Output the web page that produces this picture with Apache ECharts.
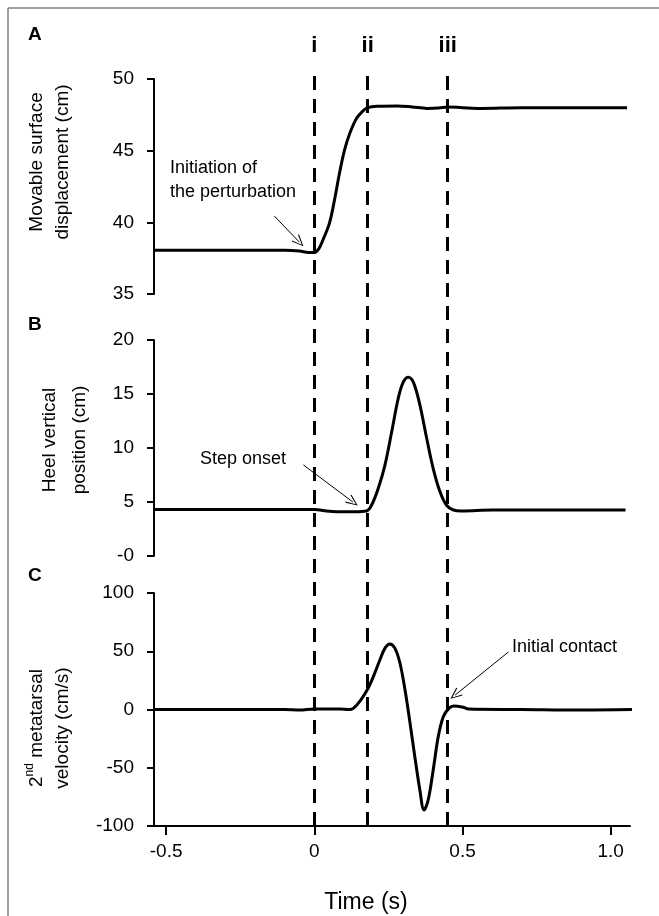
<!DOCTYPE html>
<html>
<head>
<meta charset="utf-8">
<script src="https://cdn.jsdelivr.net/npm/echarts@6/dist/echarts.min.js"></script>
<style>
  html, body { margin: 0; padding: 0; background: #fff; }
  #chart { width: 659px; height: 916px; }
</style>
</head>
<body>
<div id="chart"></div>
<script>
// panel A: movable surface displacement (cm)
const timeA = [-0.541, -0.3, -0.1, -0.05, -0.02, 0.0, 0.015, 0.029, 0.051, 0.068, 0.085, 0.102, 0.12, 0.143, 0.164, 0.178, 0.21, 0.28, 0.33, 0.38, 0.42, 0.45, 0.5, 0.56, 0.7, 0.8, 1.055];
const dispA = [38.05, 38.05, 38.05, 38.0, 37.9, 37.9, 38.15, 38.77, 39.95, 41.56, 43.44, 45.05, 46.23, 47.28, 47.77, 47.98, 48.1, 48.12, 48.05, 47.95, 47.98, 48.05, 48.0, 47.95, 48.0, 48.0, 48.0];

// panel B: heel vertical position (cm)
const timeB = [-0.541, 0.0, 0.05, 0.1, 0.137, 0.176, 0.193, 0.216, 0.238, 0.261, 0.283, 0.3, 0.317, 0.334, 0.356, 0.379, 0.401, 0.424, 0.446, 0.469, 0.497, 0.6, 0.8, 1.05];
const heelB = [4.3, 4.3, 4.15, 4.1, 4.1, 4.17, 4.7, 6.3, 8.4, 11.5, 14.6, 16.1, 16.55, 16.1, 14.0, 10.9, 8.1, 5.95, 4.7, 4.26, 4.17, 4.25, 4.25, 4.25];

// panel C: 2nd metatarsal velocity (cm/s)
const timeC = [-0.541, -0.1, -0.05, 0.0, 0.05, 0.086, 0.12, 0.148, 0.178, 0.199, 0.221, 0.238, 0.255, 0.272, 0.289, 0.306, 0.323, 0.339, 0.356, 0.37, 0.384, 0.401, 0.418, 0.435, 0.454, 0.47, 0.502, 0.52, 0.7, 0.9, 1.099];
const velC = [0, 0, -0.5, 0.5, 0.5, 0.4, 0, 5.3, 16.7, 28.2, 42.5, 52.5, 56.2, 52.5, 39.7, 16.7, -11.9, -40.5, -69.1, -86.3, -77.7, -51.9, -23.3, -6.2, 1, 3, 1.9, 0.4, 0, -0.5, 0];

// event lines i, ii, iii
const eventNames = ['i', 'ii', 'iii'];
const eventTimes = [0, 0.178, 0.45];

const xTicks = [-0.5, 0, 0.5, 1.0];

const zip = (xs, ys) => xs.map((x, i) => [x, ys[i]]);

const FONT = '"Liberation Sans", Arial, sans-serif';
const X_MIN = -0.541, X_MAX = 1.065;
const LEFT = 154, WIDTH = 476;

const arrowSym = 'path://M0,0 L5,10 L4,10.5 L0,2 L-4,10.5 L-5,10 Z';

const yAxisBase = {
    axisLine: { show: true, onZero: false, lineStyle: { color: '#000', width: 2 } },
    axisTick: { show: true, inside: false, length: 7, lineStyle: { color: '#000', width: 2 } },
    axisLabel: { color: '#000', fontSize: 19, fontFamily: FONT, margin: 20 },
    splitLine: { show: false }
};

const arrow = (from, to) => ({
    silent: true,
    animation: false,
    symbol: ['none', arrowSym],
    symbolSize: [10, 12],
    label: { show: false },
    lineStyle: { color: '#000', width: 1, type: 'solid' },
    data: [[{ coord: from }, { coord: to }]]
});

const textEl = (x, y, text, size, extra) => ({
    type: 'text', x: x, y: y, silent: true,
    style: Object.assign({ text: text, fill: '#000', fontSize: size, fontFamily: FONT }, extra || {})
});

const curve = (idx, xs, ys, extra) => Object.assign({
    type: 'line', xAxisIndex: idx, yAxisIndex: idx, data: zip(xs, ys),
    smooth: 0.35, showSymbol: false, lineStyle: { color: '#000', width: 3 }
}, extra);

const option = {
    animation: false,
    backgroundColor: '#fff',
    grid: [
        { left: LEFT, width: WIDTH, top: 79, height: 215 },
        { left: LEFT, width: WIDTH, top: 340, height: 216 },
        { left: LEFT, width: WIDTH, top: 593, height: 233 },
        { left: LEFT, width: WIDTH, top: 73, height: 753 }
    ],
    xAxis: [
        { gridIndex: 0, type: 'value', min: X_MIN, max: X_MAX, show: false },
        { gridIndex: 1, type: 'value', min: X_MIN, max: X_MAX, show: false },
        {
            gridIndex: 2, type: 'value', min: X_MIN, max: X_MAX,
            axisLine: { show: true, onZero: false, lineStyle: { color: '#000', width: 2 } },
            axisTick: { show: true, length: 9, customValues: xTicks, lineStyle: { color: '#000', width: 2 } },
            axisLabel: {
                color: '#000', fontSize: 19, fontFamily: FONT, margin: 16,
                customValues: xTicks,
                formatter: v => (v === 1 ? '1.0' : String(v))
            },
            splitLine: { show: false }
        },
        { gridIndex: 3, type: 'value', min: X_MIN, max: X_MAX, show: false }
    ],
    yAxis: [
        Object.assign({ gridIndex: 0, type: 'value', min: 35, max: 50, interval: 5 }, yAxisBase),
        Object.assign({}, yAxisBase, {
            gridIndex: 1, type: 'value', min: 0, max: 20, interval: 5,
            axisLabel: Object.assign({}, yAxisBase.axisLabel, { formatter: v => (v === 0 ? '-0' : String(v)) })
        }),
        Object.assign({ gridIndex: 2, type: 'value', min: -100, max: 100, interval: 50 }, yAxisBase),
        { gridIndex: 3, type: 'value', min: 0, max: 1, show: false }
    ],
    series: [
        curve(0, timeA, dispA, { markLine: arrow([-0.135, 40.44], [-0.051, 38.63]) }),
        curve(1, timeB, heelB, { markLine: arrow([-0.037, 8.43], [0.13, 5.0]) }),
        curve(2, timeC, velC, { clip: false, markLine: arrow([0.655, 49.4], [0.475, 12.4]) }),
        {
            type: 'line', xAxisIndex: 3, yAxisIndex: 3, data: [],
            markLine: {
                silent: true, animation: false, symbol: 'none',
                lineStyle: { color: '#000', width: 3, type: [14, 9] },
                label: {
                    show: true, position: 'end', distance: 16, formatter: '{b}',
                    color: '#000', fontSize: 22, fontWeight: 'bold', fontFamily: FONT
                },
                data: eventNames.map((n, i) => ({ name: n, xAxis: eventTimes[i] }))
            }
        }
    ],
    graphic: [
        // frame
        { type: 'line', silent: true, shape: { x1: 8, y1: 8, x2: 659, y2: 8 }, style: { stroke: '#7f7f7f', lineWidth: 1.5 } },
        { type: 'line', silent: true, shape: { x1: 8, y1: 8, x2: 8, y2: 916 }, style: { stroke: '#7f7f7f', lineWidth: 1.5 } },
        // panel letters
        textEl(28, 35, 'A', 19, { fontWeight: 'bold', verticalAlign: 'middle' }),
        textEl(28, 325, 'B', 19, { fontWeight: 'bold', verticalAlign: 'middle' }),
        textEl(28, 576, 'C', 19, { fontWeight: 'bold', verticalAlign: 'middle' }),
        // y axis titles
        {
            type: 'text', x: 50, y: 162, rotation: Math.PI / 2, silent: true,
            style: { text: 'Movable surface\ndisplacement (cm)', fill: '#000', fontSize: 19, fontFamily: FONT, align: 'center', verticalAlign: 'middle', lineHeight: 26 }
        },
        {
            type: 'text', x: 65, y: 440, rotation: Math.PI / 2, silent: true,
            style: { text: 'Heel vertical\nposition (cm)', fill: '#000', fontSize: 19, fontFamily: FONT, align: 'center', verticalAlign: 'middle', lineHeight: 30 }
        },
        {
            type: 'text', x: 50, y: 728, rotation: Math.PI / 2, silent: true,
            style: {
                text: '{n|2}{s|nd}{n| metatarsal}\n{n|velocity (cm/s)}',
                fill: '#000', fontSize: 19, fontFamily: FONT, align: 'center', verticalAlign: 'middle',
                rich: {
                    n: { fontSize: 19, fontFamily: FONT, fill: '#000', lineHeight: 26 },
                    s: { fontSize: 12, fontFamily: FONT, fill: '#000', lineHeight: 26, verticalAlign: 'top', padding: [0, 0, 8, 0] }
                }
            }
        },
        // annotations
        textEl(170, 156, 'Initiation of\nthe perturbation', 18, { lineHeight: 24 }),
        textEl(200, 459, 'Step onset', 18, { verticalAlign: 'middle' }),
        textEl(512, 647, 'Initial contact', 18, { verticalAlign: 'middle' }),
        // x axis title
        textEl(366, 903, 'Time (s)', 23, { align: 'center', verticalAlign: 'middle' })
    ]
};

const chart = echarts.init(document.getElementById('chart'));
chart.setOption(option);
</script>
</body>
</html>
